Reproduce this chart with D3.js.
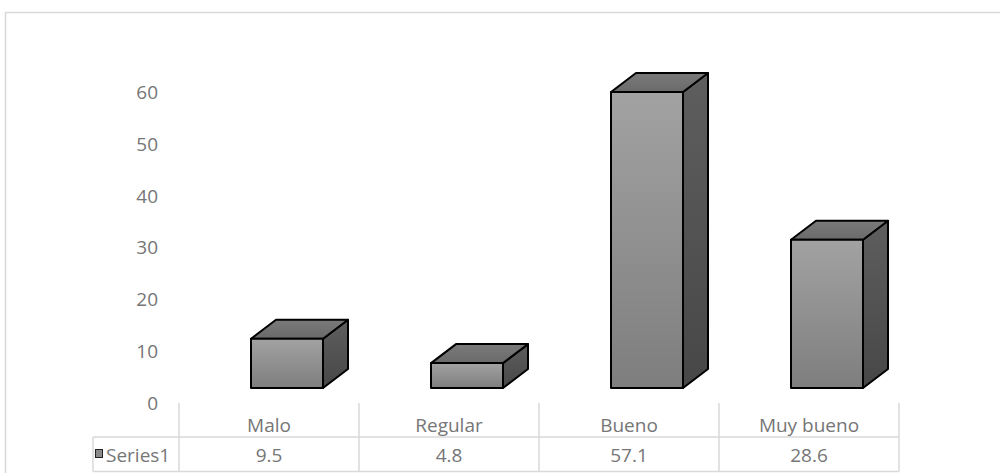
<!DOCTYPE html>
<html>
<head>
<meta charset="utf-8">
<script src="https://cdn.jsdelivr.net/npm/d3@7/dist/d3.min.js"></script>
<style>
  html, body { margin: 0; padding: 0; background: #fff; }
  svg { display: block; }
  text { font-family: "Open Sans", sans-serif; fill: #767676; }
</style>
</head>
<body>
<svg id="chart" width="1000" height="473"></svg>
<script>
// Chart data
const categories = ["Malo", "Regular", "Bueno", "Muy bueno"];
const seriesName = "Series1";
const values = [9.5, 4.8, 57.1, 28.6];
const valueLabels = ["9.5", "4.8", "57.1", "28.6"];
const yTicks = [0, 10, 20, 30, 40, 50, 60];

const svg = d3.select("#chart");
const W = 1000, H = 473;

// Chart area frame (open on right and bottom)
svg.append("rect")
  .attr("x", 5.5).attr("y", 12.5)
  .attr("width", W + 20).attr("height", H + 20)
  .attr("fill", "#fff")
  .attr("stroke", "#d9d9d9").attr("stroke-width", 1.5);

// Scales
const x = d3.scaleBand().domain(categories).range([179, 899]).padding(0);
const y = d3.scaleLinear().domain([0, 60]).range([403, 92]);

// 3D projection: depth offset of the box and floor lift of the front face
const depth = { dx: 25, dy: -19 };
const floorLift = 15;

// Gradients
const defs = svg.append("defs");
function grad(id, c1, c2, horizontal) {
  const g = defs.append("linearGradient").attr("id", id)
    .attr("x1", 0).attr("y1", 0)
    .attr("x2", horizontal ? 1 : 0).attr("y2", horizontal ? 0 : 1);
  g.append("stop").attr("offset", "0%").attr("stop-color", c1);
  g.append("stop").attr("offset", "100%").attr("stop-color", c2);
}
grad("gFront", "#a2a2a2", "#7e7e7e", false);
grad("gSide", "#5e5e5e", "#474747", false);
grad("gTop", "#7a7a7a", "#6a6a6a", false);

// Y axis labels
svg.append("g").selectAll("text")
  .data(yTicks).enter().append("text")
  .attr("x", 158)
  .attr("y", d => y(d))
  .attr("dy", "0.36em")
  .attr("text-anchor", "end")
  .attr("font-size", 19)
  .text(d => d);

// 3D columns
const bars = svg.append("g").selectAll("g")
  .data(categories.map((c, i) => ({ c, v: values[i] })))
  .enter().append("g");

bars.each(function(d) {
  const g = d3.select(this);
  const bw = x.bandwidth() * 0.4;
  const x0 = x(d.c) + x.bandwidth() * 0.4;
  const x1 = x0 + bw;
  const yb = y(0) - floorLift;
  const yt = y(d.v) - floorLift;
  const { dx, dy } = depth;
  const stroke = { stroke: "#000", "stroke-width": 2, "stroke-linejoin": "round" };
  const apply = (sel) => { for (const k in stroke) sel.attr(k, stroke[k]); return sel; };

  // right side face
  apply(g.append("path")
    .attr("d", `M${x1},${yt}L${x1 + dx},${yt + dy}L${x1 + dx},${yb + dy}L${x1},${yb}Z`)
    .attr("fill", "url(#gSide)"));
  // top face
  apply(g.append("path")
    .attr("d", `M${x0},${yt}L${x0 + dx},${yt + dy}L${x1 + dx},${yt + dy}L${x1},${yt}Z`)
    .attr("fill", "url(#gTop)"));
  // front face
  apply(g.append("rect")
    .attr("x", x0).attr("y", yt)
    .attr("width", bw).attr("height", yb - yt)
    .attr("fill", "url(#gFront)"));
});

// Data table
const tableLeft = 93;
const rowTop = 403, rowMid = 437, rowBot = 471.5;
const grid = svg.append("g").attr("stroke", "#d9d9d9").attr("stroke-width", 1.5).attr("fill", "none");

// vertical separators of the category columns
const edges = categories.map(c => x(c)).concat([x(categories[categories.length - 1]) + x.bandwidth()]);
grid.selectAll("line.v").data(edges).enter().append("line")
  .attr("x1", d => d).attr("x2", d => d)
  .attr("y1", rowTop).attr("y2", rowBot);
// left border of the series row
grid.append("line").attr("x1", tableLeft).attr("x2", tableLeft).attr("y1", rowMid).attr("y2", rowBot);
// horizontal lines
grid.append("line").attr("x1", tableLeft).attr("x2", edges[edges.length - 1]).attr("y1", rowMid).attr("y2", rowMid);
grid.append("line").attr("x1", tableLeft).attr("x2", edges[edges.length - 1]).attr("y1", rowBot).attr("y2", rowBot);

// category labels
svg.append("g").selectAll("text")
  .data(categories).enter().append("text")
  .attr("x", d => x(d) + x.bandwidth() / 2)
  .attr("y", 432)
  .attr("text-anchor", "middle")
  .attr("font-size", 19)
  .text(d => d);

// value labels
svg.append("g").selectAll("text")
  .data(categories.map((c, i) => ({ c, t: valueLabels[i] }))).enter().append("text")
  .attr("x", d => x(d.c) + x.bandwidth() / 2)
  .attr("y", 462)
  .attr("text-anchor", "middle")
  .attr("font-size", 19)
  .text(d => d.t);

// legend key and series name
svg.append("rect")
  .attr("x", 95.5).attr("y", 449.5).attr("width", 7).attr("height", 8)
  .attr("fill", "#8a8a8a").attr("stroke", "#222").attr("stroke-width", 1);
svg.append("text")
  .attr("x", 106).attr("y", 462)
  .attr("font-size", 19)
  .text(seriesName);
</script>
</body>
</html>
